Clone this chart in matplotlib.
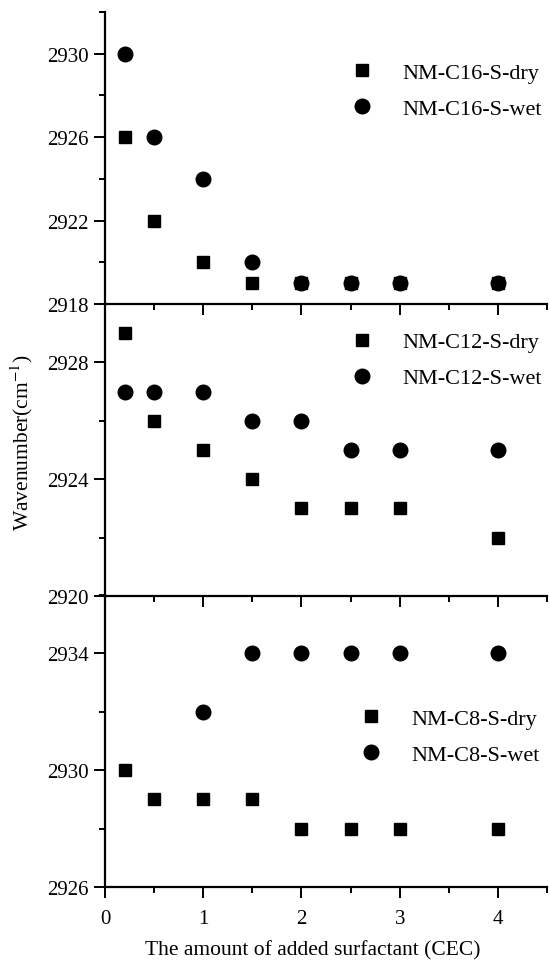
import matplotlib
matplotlib.use('Agg')
import matplotlib.pyplot as plt
from matplotlib.ticker import MultipleLocator

plt.rcParams['font.family'] = ['Liberation Serif', 'DejaVu Serif']
plt.rcParams['mathtext.fontset'] = 'stix'

# amount of added surfactant (CEC)
x = [0.2, 0.5, 1, 1.5, 2, 2.5, 3, 4]
x_c8_wet = [1, 1.5, 2, 2.5, 3, 4]

c16_dry = [2926, 2922, 2920, 2919, 2919, 2919, 2919, 2919]
c16_wet = [2930, 2926, 2924, 2920, 2919, 2919, 2919, 2919]
c12_dry = [2929, 2926, 2925, 2924, 2923, 2923, 2923, 2922]
c12_wet = [2927, 2927, 2927, 2926, 2926, 2925, 2925, 2925]
c8_dry = [2930, 2929, 2929, 2929, 2928, 2928, 2928, 2928]
c8_wet = [2932, 2934, 2934, 2934, 2934, 2934]

panels = [
    (x, c16_dry, x, c16_wet, 'NM-C16-S-dry', 'NM-C16-S-wet', (2918, 2932), [2918, 2922, 2926, 2930], (0.557, 0.73)),
    (x, c12_dry, x, c12_wet, 'NM-C12-S-dry', 'NM-C12-S-wet', (2920, 2930), [2920, 2924, 2928], (0.557, 0.808)),
    (x, c8_dry, x_c8_wet, c8_wet, 'NM-C8-S-dry', 'NM-C8-S-wet', (2926, 2936), [2926, 2930, 2934], (0.577, 0.515)),
]

fig = plt.figure(figsize=(5.5, 9.62), dpi=100)
left, width = 0.191, 0.8036
bottoms = [0.683, 0.3794, 0.0769]
height = 0.3035

for i, (xd, yd, xw, yw, lab_d, lab_w, ylim, yt, legpos) in enumerate(panels):
    ax = fig.add_axes([left, bottoms[i], width, height])
    ax.patch.set_visible(False)
    ax.plot(xd, yd, 's', color='black', markersize=9, label=lab_d, clip_on=False)
    ax.plot(xw, yw, 'o', color='black', markersize=10.5, label=lab_w, clip_on=False)
    ax.set_xlim(0, 4.5)
    ax.set_ylim(ylim)
    ax.set_yticks(yt)
    ax.yaxis.set_minor_locator(MultipleLocator(2))
    ax.set_xticks([0, 1, 2, 3, 4])
    ax.xaxis.set_minor_locator(MultipleLocator(0.5))
    ax.spines['top'].set_visible(False)
    ax.spines['right'].set_visible(False)
    ax.spines['left'].set_linewidth(1.6)
    ax.spines['bottom'].set_linewidth(1.6)
    ax.tick_params(which='major', direction='out', length=8, width=1.4, labelsize=15, pad=4)
    ax.tick_params(axis='x', which='major', pad=8)
    ax.tick_params(which='minor', direction='out', length=4, width=1.4)
    if i < 2:
        ax.tick_params(axis='x', labelbottom=False)
    leg = ax.legend(loc='center left', bbox_to_anchor=legpos, frameon=False, fontsize=16,
                    handlelength=1.0, handletextpad=1.3, labelspacing=0.7,
                    borderpad=0, borderaxespad=0)

fig.text(0.04, 0.54, 'Wavenumber(cm$^{-1}$)', rotation=90, fontsize=15.5, ha='center', va='center')
fig.text(0.569, 0.012, 'The amount of added surfactant (CEC)', fontsize=15.5, ha='center', va='center')

plt.savefig('out.png', dpi=100)
